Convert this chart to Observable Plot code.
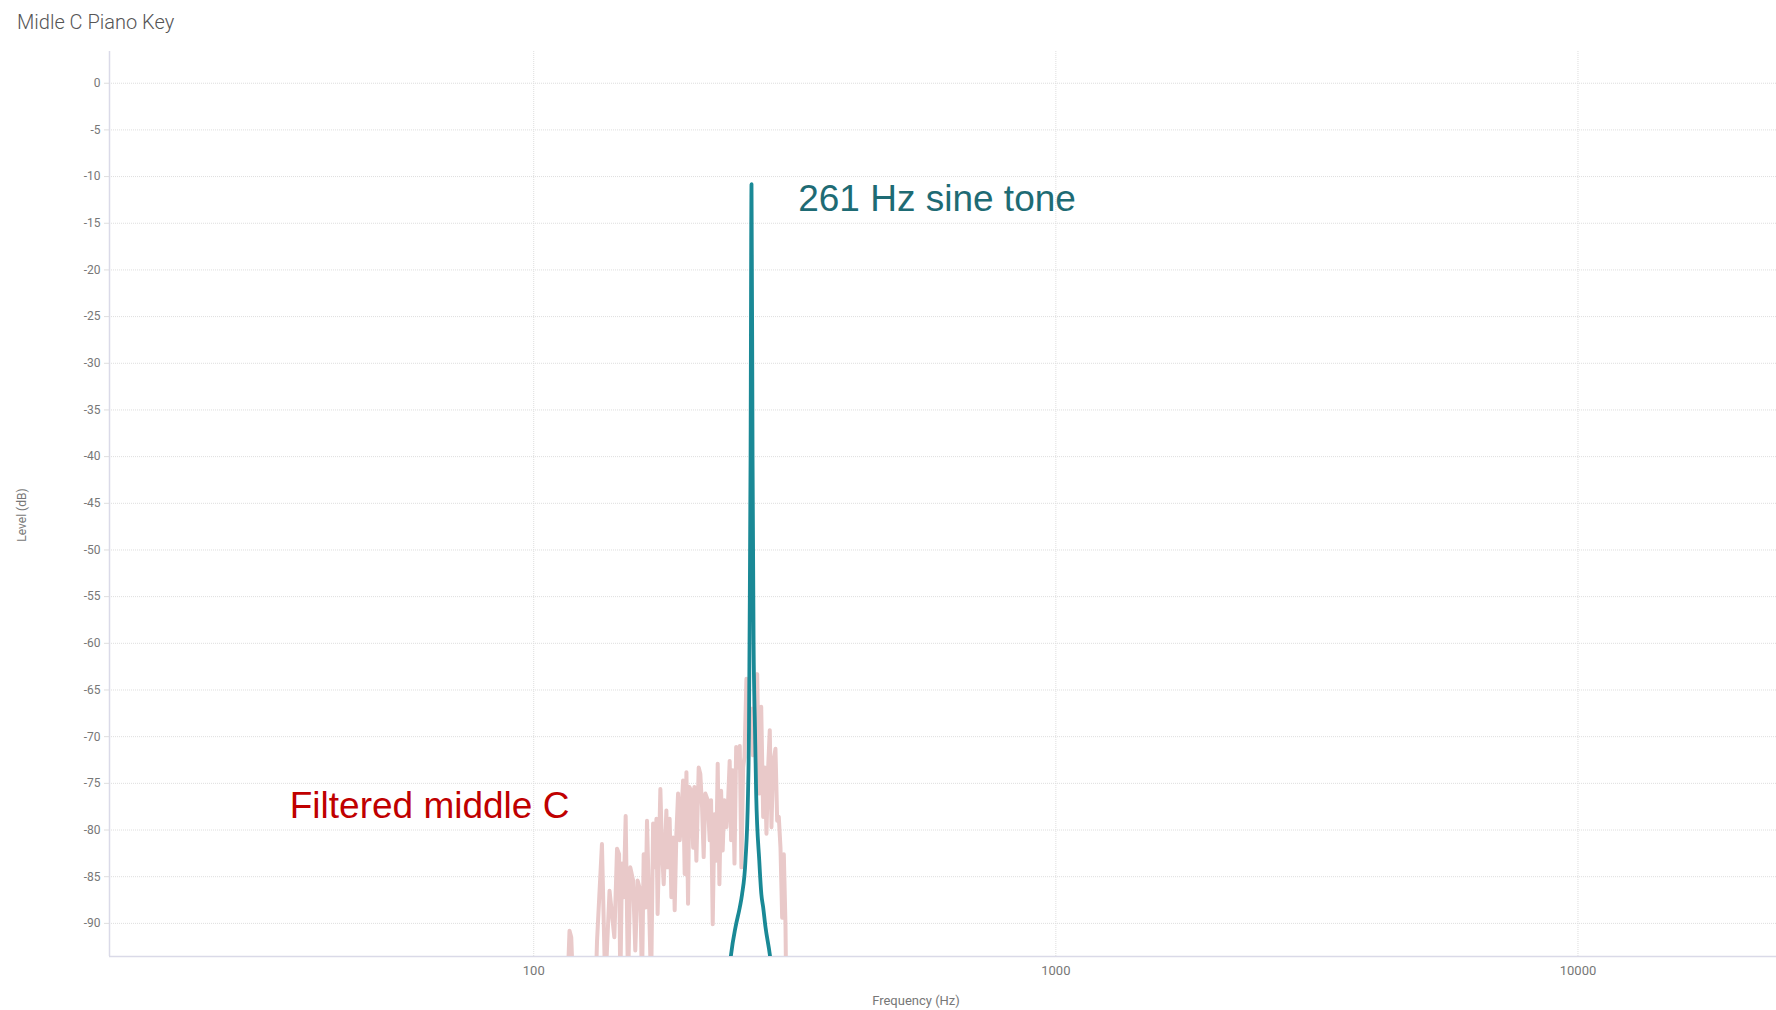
<!DOCTYPE html>
<html>
<head>
<meta charset="utf-8">
<script src="https://cdn.jsdelivr.net/npm/d3@7"></script>
<script src="https://cdn.jsdelivr.net/npm/@observablehq/plot@0.6"></script>
<style>
  html, body { margin: 0; padding: 0; background: #fff; }
  #wrap { position: relative; width: 1776px; height: 1010px; overflow: hidden; }
  .lbl { position: absolute; font-family: Roboto, "Noto Sans", sans-serif; white-space: nowrap; }
  #title { left: 17px; top: 12px; font-size: 20px; line-height: 20px; font-weight: 300; color: #555; }
  #ylab { left: 21.5px; top: 515px; font-size: 12px; line-height: 12px; color: #777; transform: translate(-50%, -50%) rotate(-90deg); }
  #xlab { left: 916px; top: 1000px; font-size: 13px; line-height: 13px; color: #777; transform: translate(-50%, -50%); }
</style>
</head>
<body>
<div id="wrap">
  <div id="chart"></div>
  <div class="lbl" id="title">Midle C Piano Key</div>
  <div class="lbl" id="ylab">Level (dB)</div>
  <div class="lbl" id="xlab">Frequency (Hz)</div>
</div>
<script>
// ---- data ----
const yTicks = [0, -5, -10, -15, -20, -25, -30, -35, -40, -45, -50, -55, -60, -65, -70, -75, -80, -85, -90];
const xTicks = [100, 1000, 10000];

// Filtered middle C (noisy spectrum)
const pinkFreq = [115.5, 117.1, 118.0, 119.5, 131.0, 132.2, 135.1, 137.1, 139.7, 141.2, 142.7, 144.4, 145.7, 146.5, 147.6, 148.7, 150.0, 151.6, 153.1, 155.0, 156.5, 158.1, 160.0, 161.2, 162.4, 163.8, 164.8, 166.0, 167.8, 169.3, 170.5, 171.8, 172.7, 174.8, 176.1, 177.4, 179.5, 180.5, 182.1, 183.5, 184.9, 186.2, 187.6, 189.0, 190.4, 191.8, 193.2, 194.6, 196.1, 197.5, 198.7, 200.4, 202.0, 203.1, 204.9, 207.0, 208.5, 210.1, 211.6, 213.2, 215.4, 217.3, 218.6, 220.2, 221.9, 223.6, 225.1, 226.8, 228.5, 230.1, 231.8, 233.9, 235.7, 237.3, 238.8, 240.5, 242.4, 244.2, 245.9, 248.1, 249.9, 251.8, 253.3, 255.5, 257.8, 259.5, 261.2, 263.0, 265.0, 267.9, 270.3, 272.7, 275.1, 277.1, 279.1, 281.2, 283.2, 285.3, 287.4, 290.4, 292.6, 294.7, 296.9, 299.1, 301.3, 303.5, 304.9];
const pinkDb = [-100, -90.8, -91.5, -100, -100, -91.9, -81.5, -97, -86.5, -89, -91.5, -82.0, -82.6, -97, -83.6, -87.2, -78.5, -97, -84.0, -85.4, -92.9, -85.4, -86.5, -97, -82.6, -88.3, -79.0, -86.1, -97, -79.3, -84.0, -78.8, -89.0, -75.6, -82.2, -85.8, -77.9, -84.0, -78.8, -87.2, -80.8, -88.6, -80.4, -76.1, -81.1, -78.3, -74.7, -84.7, -73.8, -87.9, -75.4, -75.8, -81.9, -75.4, -83.3, -73.3, -74.0, -77.6, -82.9, -76.1, -76.8, -81.1, -76.8, -90.1, -78.3, -83.3, -72.9, -85.8, -75.8, -82.2, -76.8, -79.7, -76.8, -72.6, -81.1, -73.6, -83.6, -71.1, -73.3, -71.0, -84.0, -73.3, -72.2, -63.8, -64.7, -70, -67, -72, -66, -63.3, -76.1, -66.8, -78.6, -73.3, -80.4, -73.3, -69.3, -79.7, -72.9, -71.3, -79.0, -78.6, -81.9, -89.4, -82.6, -90.1, -100];

// 261 Hz sine tone
const toneFreq = [236, 238.8, 243.5, 248.1, 250.6, 254.4, 257.3, 258.4, 259.0, 260.2, 261.3, 262.5, 263.7, 265.3, 266.7, 270.4, 272.9, 275.1, 277.9, 283.2, 287];
const toneDb = [-96, -93.3, -90.4, -88.3, -86.9, -83.3, -76.1, -69, -60, -40, -10.8, -40, -60, -69, -76.1, -83.3, -86.9, -88.3, -90.4, -93.3, -96];

// annotations
const noteText = ["261 Hz sine tone", "Filtered middle C"];
const noteFreq = [321, 34.1];
const noteDb = [-12.45, -77.4];
const noteColor = ["#1e6b74", "#c00000"];

const xDomain = [15.4, 24000];
const yDomain = [-93.55, 3.4];

// ---- build tables ----
const pink = pinkFreq.map((f, i) => ({f, db: pinkDb[i]}));
const tone = toneFreq.map((f, i) => ({f, db: toneDb[i]}));
const notes = noteText.map((t, i) => ({t, f: noteFreq[i], db: noteDb[i], c: noteColor[i]}));

const chart = Plot.plot({
  width: 1776,
  height: 1010,
  marginLeft: 109,
  marginRight: 0,
  marginTop: 51,
  marginBottom: 54,
  style: {fontFamily: "Roboto, 'Noto Sans', sans-serif", background: "#fff"},
  x: {type: "log", domain: xDomain},
  y: {domain: yDomain},
  marks: [
    Plot.ruleY(yTicks, {stroke: "#dedede", strokeDasharray: "1,1", strokeWidth: 1}),
    Plot.ruleX(xTicks, {stroke: "#dedede", strokeDasharray: "1,1", strokeWidth: 1}),
    Plot.axisY({ticks: yTicks, tickSize: 5, tickPadding: 4, label: null, tickFormat: d => String(d),
      stroke: "#dedede", fill: "#777", fontSize: 12}),
    Plot.axisX({ticks: xTicks, tickSize: 0, tickPadding: 9, label: null, tickFormat: d => String(d),
      fill: "#777", fontSize: 13}),
    Plot.ruleX([xDomain[0]], {stroke: "#dadae8", strokeWidth: 1.5}),
    Plot.ruleY([yDomain[0]], {stroke: "#dadae8", strokeWidth: 1.5}),
    Plot.line(pink, {x: "f", y: "db", stroke: "#e9c9c9", strokeWidth: 4, strokeLinejoin: "round", clip: true}),
    Plot.line(tone, {x: "f", y: "db", stroke: "#1a8996", strokeWidth: 3.8, strokeLinejoin: "round",
      curve: "monotone-x", clip: true}),
    Plot.text(notes, {x: "f", y: "db", text: "t", fill: "c", textAnchor: "start", lineAnchor: "middle",
      fontSize: 37, fontFamily: "'Liberation Sans', Arial, sans-serif"})
  ]
});
document.getElementById("chart").appendChild(chart);
</script>
</body>
</html>
